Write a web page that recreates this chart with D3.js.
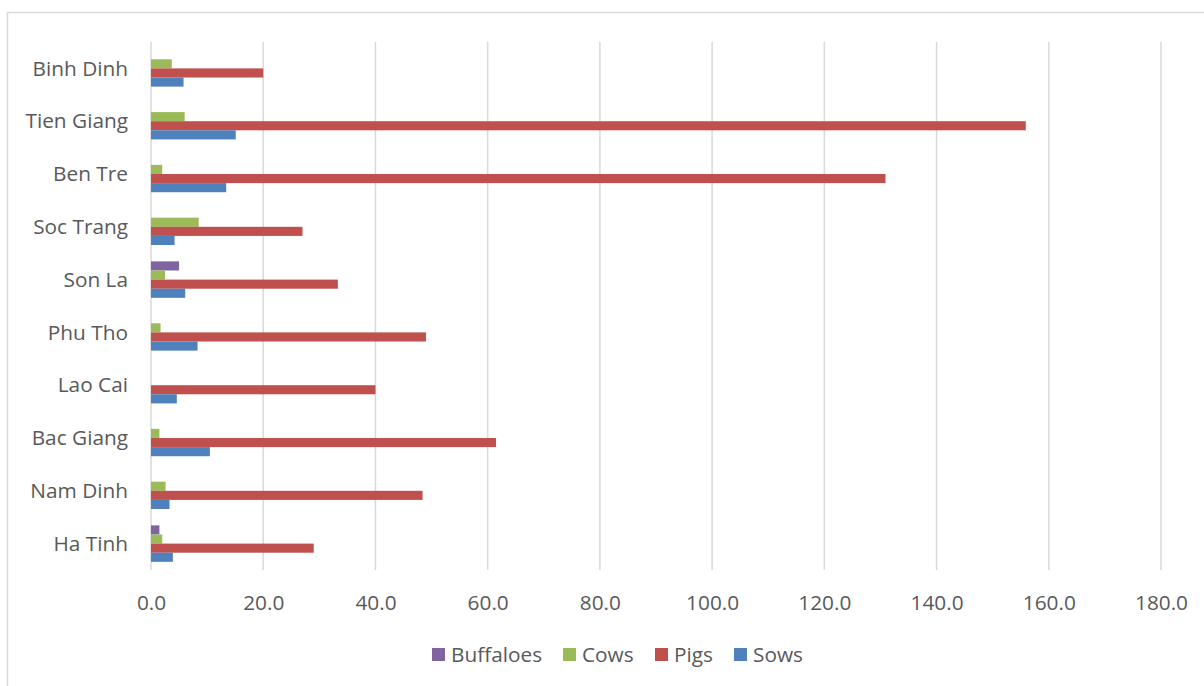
<!DOCTYPE html>
<html>
<head>
<meta charset="utf-8">
<script src="https://cdn.jsdelivr.net/npm/d3@7"></script>
<style>
  html, body { margin: 0; padding: 0; background: #ffffff; }
  svg { display: block; font-family: "Open Sans", sans-serif; }
</style>
</head>
<body>
<svg id="chart" width="1204" height="686"></svg>
<script>
// Provinces, top to bottom
const provinces = ["Binh Dinh", "Tien Giang", "Ben Tre", "Soc Trang", "Son La",
                   "Phu Tho", "Lao Cai", "Bac Giang", "Nam Dinh", "Ha Tinh"];

// Livestock series (listed in the same order as provinces)
const seriesNames = ["Buffaloes", "Cows", "Pigs", "Sows"];
const buffaloes = [0, 0, 0, 0, 5.0, 0, 0, 0, 0, 1.5];
const cows      = [3.7, 6.0, 2.0, 8.5, 2.5, 1.7, 0, 1.5, 2.6, 2.0];
const pigs      = [20.0, 155.9, 130.9, 27.0, 33.3, 49.0, 40.0, 61.5, 48.4, 29.0];
const sows      = [5.8, 15.1, 13.4, 4.2, 6.1, 8.3, 4.6, 10.5, 3.3, 3.9];
const seriesColors = ["#8064A2", "#9BBB59", "#C0504D", "#4F81BD"];

const xTicks = [0, 20, 40, 60, 80, 100, 120, 140, 160, 180];

const seriesValues = [buffaloes, cows, pigs, sows];
const rows = provinces.map((p, i) => ({
  province: p,
  values: seriesNames.map((s, k) => ({ series: s, value: seriesValues[k][i], color: seriesColors[k] }))
}));

const svg = d3.select("#chart");
const textColor = "#595959";
const gridColor = "#d9d9d9";
const fontSize = "20.8px";

// Chart frame
svg.append("rect")
  .attr("x", 7.5).attr("y", 12.5)
  .attr("width", 1210).attr("height", 690)
  .attr("fill", "none")
  .attr("stroke", gridColor)
  .attr("stroke-width", 1.5);

const plot = { left: 151, right: 1161, top: 42, bottom: 570 };

const x = d3.scaleLinear().domain([0, 180]).range([plot.left, plot.right]);
const y = d3.scaleBand().domain(provinces)
  .range([plot.top, plot.bottom])
  .paddingInner(0.31).paddingOuter(0.155);
const ySub = d3.scaleBand().domain(seriesNames).range([0, y.bandwidth()]);

// Vertical gridlines
svg.append("g")
  .selectAll("line")
  .data(xTicks)
  .join("line")
  .attr("x1", d => x(d)).attr("x2", d => x(d))
  .attr("y1", plot.top).attr("y2", plot.bottom)
  .attr("stroke", gridColor)
  .attr("stroke-width", 1.5);

// Bars
const groups = svg.append("g")
  .selectAll("g")
  .data(rows)
  .join("g")
  .attr("transform", d => `translate(0,${y(d.province)})`);

groups.selectAll("rect")
  .data(d => d.values.filter(v => v.value > 0))
  .join("rect")
  .attr("x", x(0))
  .attr("y", v => ySub(v.series))
  .attr("width", v => x(v.value) - x(0))
  .attr("height", ySub.bandwidth())
  .attr("fill", v => v.color);

// Category labels
const yAxis = d3.axisLeft(y).tickSize(0).tickPadding(0);
const yg = svg.append("g")
  .attr("transform", `translate(128,0)`)
  .call(yAxis);
yg.select(".domain").remove();
yg.selectAll("text")
  .attr("fill", textColor)
  .attr("font-size", fontSize)
  .attr("font-family", "'Open Sans', sans-serif")
  .attr("dy", "0.35em");

// Value axis labels
const xAxis = d3.axisBottom(x).tickValues(xTicks).tickFormat(d3.format(".1f")).tickSize(0).tickPadding(0);
const xg = svg.append("g")
  .attr("transform", `translate(0,595)`)
  .call(xAxis);
xg.select(".domain").remove();
xg.selectAll("text")
  .attr("fill", textColor)
  .attr("font-size", fontSize)
  .attr("font-family", "'Open Sans', sans-serif")
  .attr("dy", "0.71em");

// Legend
const legendX = [432, 563, 655, 734];
const legend = svg.append("g")
  .selectAll("g")
  .data(seriesNames)
  .join("g")
  .attr("transform", (d, i) => `translate(${legendX[i]},648)`);
legend.append("rect")
  .attr("width", 13).attr("height", 13)
  .attr("fill", (d, i) => seriesColors[i]);
legend.append("text")
  .attr("x", 19).attr("y", 7)
  .attr("dy", "0.35em")
  .attr("fill", textColor)
  .attr("font-size", fontSize)
  .text(d => d);
</script>
</body>
</html>
